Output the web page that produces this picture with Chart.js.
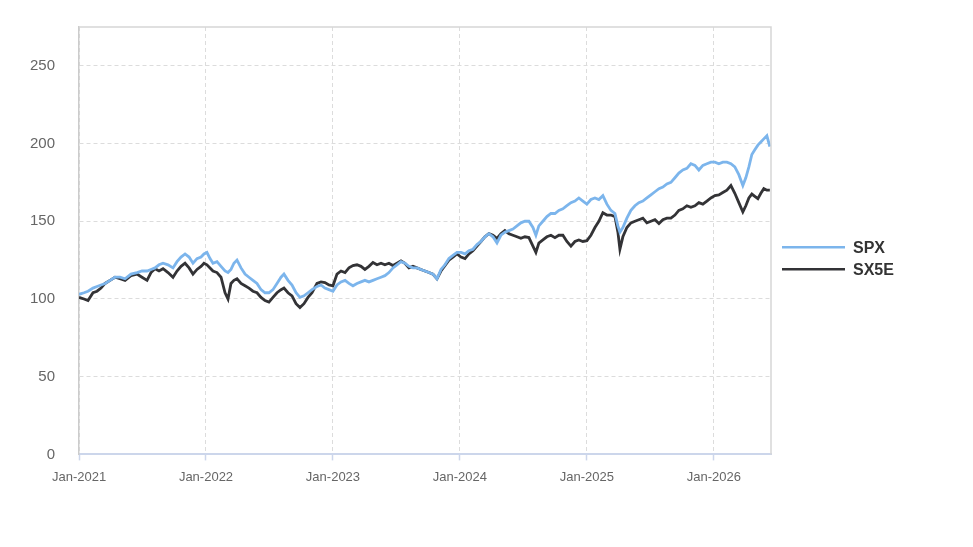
<!DOCTYPE html>
<html>
<head>
<meta charset="utf-8">
<script src="https://cdn.jsdelivr.net/npm/chart.js@4.4.1/dist/chart.umd.min.js"></script>
<style>
  html, body { margin: 0; padding: 0; background: #ffffff; }
  #wrap { width: 973px; height: 547px; position: relative; }
</style>
</head>
<body>
<div id="wrap"><canvas id="c" width="973" height="547"></canvas></div>
<script>
// Months elapsed since Jan-2021
const months = [0,0.47,0.85,1.32,1.70,2.08,2.46,2.93,3.40,3.87,4.35,4.91,5.48,5.95,6.43,6.80,7.18,7.56,7.94,8.41,8.88,9.26,9.64,10.02,10.40,10.77,11.15,11.53,11.81,12.09,12.38,12.66,13.04,13.42,13.80,14.08,14.36,14.64,14.93,15.31,15.69,16.06,16.44,16.82,17.20,17.58,17.95,18.33,18.71,19.09,19.37,19.75,20.13,20.51,20.88,21.26,21.64,22.02,22.49,22.87,23.24,23.62,24.00,24.38,24.76,25.14,25.51,25.89,26.27,26.65,27.02,27.40,27.78,28.16,28.54,28.91,29.29,29.67,30.05,30.43,30.80,31.18,31.56,31.94,32.31,32.69,33.07,33.45,33.83,34.21,34.58,34.96,35.34,35.72,36.10,36.48,36.85,37.23,37.61,37.99,38.36,38.74,39.12,39.50,39.87,40.25,40.63,41.01,41.39,41.76,42.14,42.52,42.90,43.18,43.46,43.84,44.22,44.60,44.98,45.35,45.73,46.11,46.49,46.87,47.24,47.62,48.00,48.38,48.76,49.13,49.51,49.89,50.27,50.65,50.93,51.12,51.40,51.78,52.16,52.54,52.91,53.29,53.67,54.05,54.43,54.81,55.18,55.56,55.94,56.32,56.69,57.07,57.45,57.83,58.21,58.58,58.96,59.34,59.72,60.10,60.47,60.85,61.23,61.61,61.98,62.36,62.74,63.02,63.31,63.59,63.87,64.16,64.44,64.72,65.01,65.29];
const spx  = [103,104,105,107,108,109,110,112,114,114,113,116,117,118,118,119,120,122,123,122,120,124,127,129,127,123,126,127,129,130,126,123,124,121,118,117,119,123,125,120,116,114,112,110,106,104,104,106,110,114,116,112,109,104,101,102,104,106,108,109,107,106,105,109,111,112,110,108.5,110,111,112,111,112,113,114,115,117,120,122,124,123,121,120,120,119,118,117,116,113,119,122,126,128,130,130,129,131,132,135,137,140,142,140,136,141,143,144,145,147,149,150,150,146,141,147,150,153,155,155,157,158,160,162,163,165,163,161,164,165,164,166.5,161,157,155,147,143,146,152,157,160,162,163,165,167,169,171,172,174,175,178,181,183,184,187,186,183,186,187,188,188,187,188,188,187,185,180,173,178,185,193,196,199,201,203,205,198];
const sx5e = [101,100,99,104,105,107,110,112,114,113,112,115,116,114,112,117,119.5,118,119.5,117,114,118,121,123,120,116,119,121,123,122,120,118,117,114,104,100,110,112,113,110,108.5,107,105,104,101,99,98,101,104,106,107,104,102,97,94.5,97,101,104,110,111,110.5,109,108.5,116,118,117,120,121.5,122,121,119,121,123.5,122,123,122,123,121.5,123,124.5,123,120,121,120,119,118,117,116,113,118,121.5,125,127,129,127,126,129,131,134,137,140,142,141,139,142,144,142,141,140,139,140,139.5,134,130,136,138,140,141,139.5,141,141,137,134,137,138,137,137.5,141,146,150,155.5,154,154,153,143,132,140,146,149,150,151,152,149,150,151,148.5,151,152,152,154,157,158,160,159,160,162,161,163,165,166.5,167,168.5,170,173,168,162,156,160,165,167.5,166,164.5,168,171,170,170];
const seriesNames = ['SPX', 'SX5E'];
const yTicks = [0, 50, 100, 150, 200, 250];
const startYear = 2021;

const toPts = arr => arr.map((v, i) => ({ x: months[i], y: v }));
const FONT = 'Liberation Sans, Arial, sans-serif';

const frame = {
  id: 'frame',
  afterDraw(chart) {
    const { ctx, chartArea: a } = chart;
    ctx.save();
    ctx.strokeStyle = '#d6d6d6';
    ctx.lineWidth = 1.5;
    ctx.beginPath();
    ctx.moveTo(a.left, a.top);
    ctx.lineTo(a.right, a.top);
    ctx.lineTo(a.right, a.bottom);
    ctx.stroke();
    // legend (right side)
    const items = chart.data.datasets;
    const x0 = a.right + 11, lineLen = 63, gap = 8;
    const yMid = (a.top + a.bottom) / 2 + 17.5;
    const step = 22;
    const yStart = yMid - (items.length - 1) * step / 2;
    ctx.font = 'bold 16px ' + FONT;
    ctx.textBaseline = 'middle';
    ctx.textAlign = 'left';
    items.forEach((ds, i) => {
      const y = yStart + i * step;
      ctx.strokeStyle = ds.borderColor;
      ctx.lineWidth = 2.5;
      ctx.beginPath();
      ctx.moveTo(x0, y);
      ctx.lineTo(x0 + lineLen, y);
      ctx.stroke();
      ctx.fillStyle = '#333333';
      ctx.fillText(ds.label, x0 + lineLen + gap, y + 1);
    });
    ctx.restore();
  }
};

new Chart(document.getElementById('c'), {
  type: 'line',
  data: {
    datasets: [
      { label: seriesNames[0], data: toPts(spx), borderColor: '#7cb5ec', backgroundColor: '#7cb5ec', borderWidth: 2.8, pointRadius: 0, tension: 0 },
      { label: seriesNames[1], data: toPts(sx5e), borderColor: '#333336', backgroundColor: '#333336', borderWidth: 2.8, pointRadius: 0, tension: 0 }
    ]
  },
  options: {
    responsive: false,
    animation: false,
    events: [],
    layout: { padding: { left: 6, top: 27, right: 202, bottom: 53 } },
    plugins: {
      tooltip: { enabled: false },
      legend: { display: false }
    },
    scales: {
      x: {
        type: 'linear',
        min: 0, max: 65.4,
        grid: { color: '#dcdcdc', tickColor: '#ccd6eb', tickBorderDash: [], tickLength: 6, tickWidth: 1.5, drawTicks: true },
        border: { display: true, color: '#ccd6eb', width: 2, dash: [4, 3] },
        afterFit: s => { s.paddingLeft = 0; s.paddingRight = 0; },
        ticks: {
          stepSize: 12, includeBounds: false, maxRotation: 0, autoSkip: false, padding: 9,
          color: '#666666', font: { family: FONT, size: 13 },
          callback: v => 'Jan-' + (startYear + Math.round(v / 12))
        }
      },
      y: {
        type: 'linear',
        min: 0, max: 275,
        afterBuildTicks: s => { s.ticks = yTicks.map(v => ({ value: v })); },
        afterFit: s => { s.paddingTop = 0; s.paddingBottom = 0; },
        grid: { color: '#dcdcdc', drawTicks: false },
        border: { display: true, color: '#cccccc', width: 1.5, dash: [4, 3] },
        ticks: {
          padding: 24, color: '#666666',
          font: { family: FONT, size: 15 }
        }
      }
    }
  },
  plugins: [frame]
});
</script>
</body>
</html>
